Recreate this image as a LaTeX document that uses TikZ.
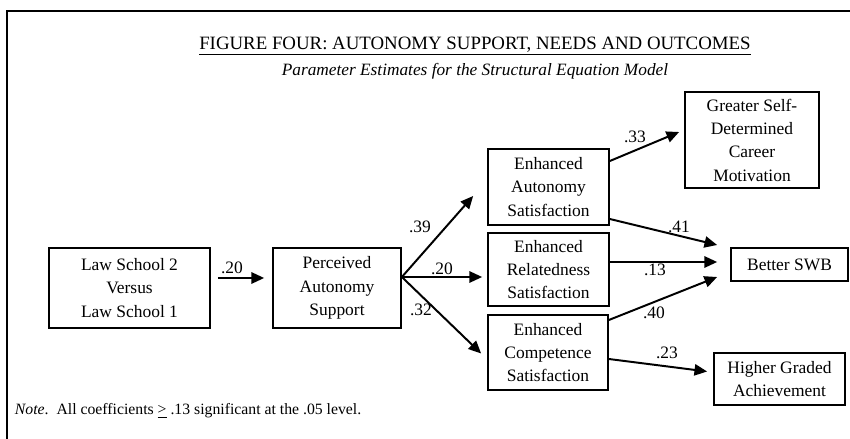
\documentclass[tikz,border=0pt]{standalone}
\usepackage{fontspec}
\setmainfont{Liberation Serif}
\usetikzlibrary{arrows.meta,calc}

\begin{document}
\begin{tikzpicture}[x=0.025cm, y=-0.025cm,
    box/.style={draw, line width=1.2pt, align=center, inner sep=0pt, font=\fontsize{12.4}{16.6}\selectfont},
    boxsize/.style 2 args={minimum width=#1*0.7113pt, minimum height=#2*0.7113pt},
    coef/.style={font=\fontsize{12.4}{14}\selectfont, inner sep=1pt},
    arr/.style={line width=1.4pt, -{Triangle[length=9pt,width=8pt]}}]
    \useasboundingbox (0,0) rectangle (850,439);
    \draw[line width=1pt] (7,445) -- (7,11) -- (860,11);

    % title
    \node (title) at (475,46) {\fontsize{13.4}{16}\selectfont\underline{FIGURE FOUR: AUTONOMY SUPPORT, NEEDS AND OUTCOMES}};
    \node (subtitle) at (475,71) {\fontsize{12.3}{15}\selectfont\itshape Parameter Estimates for the Structural Equation Model};

    % boxes
    \node[box, boxsize={161}{80}] (law) at (129.5,288) {Law School 2\\Versus\\Law School 1};
    \node[box, boxsize={128}{80}] (pas) at (337,288) {Perceived\\Autonomy\\Support};
    \node[box, boxsize={121}{76}] (eas) at (548.5,187) {Enhanced\\Autonomy\\Satisfaction};
    \node[box, boxsize={121}{73}] (ers) at (548.5,269.5) {Enhanced\\Relatedness\\Satisfaction};
    \node[box, boxsize={120}{75}] (ecs) at (548,352.5) {Enhanced\\Competence\\Satisfaction};
    \node[box, boxsize={134}{96}] (gsd) at (752,140) {Greater Self-\\Determined\\Career\\Motivation};
    \node[box, boxsize={117}{33}] (swb) at (789.5,264.5) {Better SWB};
    \node[box, boxsize={131}{52}] (hga) at (779.5,379) {Higher Graded\\Achievement};

    % paths
    \draw[arr] ($(law.east)+(7,-10)$) -- ($(pas.west)+(-8,-10)$);
    \draw[arr] ($(pas.east)+(0,-11)$) -- ($(eas.west)+(-14,9)$);
    \draw[arr] ($(pas.east)+(0,-11)$) -- ($(ers.west)+(-5,7.5)$);
    \draw[arr] ($(pas.east)+(0,-11)$) -- ($(ecs.west)+(-6,1)$);
    \draw[arr] ($(eas.east)+(0,-26)$) -- ($(gsd.west)+(-5,-8)$);
    \draw[arr] ($(eas.east)+(0,32)$) -- ($(swb.west)+(-13,-19.5)$);
    \draw[arr] ($(ers.east)+(0,-7.5)$) -- ($(swb.west)+(-13,-2.5)$);
    \draw[arr] ($(ecs.east)+(0,-32.5)$) -- ($(swb.west)+(-13,12.5)$);
    \draw[arr] ($(ecs.east)+(0,6.5)$) -- ($(hga.west)+(-6,-7.5)$);

    % coefficients
    \node[coef] (c1) at (232,268) {.20};
    \node[coef] (c2) at (420,227) {.39};
    \node[coef] (c3) at (442,269) {.20};
    \node[coef] (c4) at (421,310) {.32};
    \node[coef] (c5) at (635,137) {.33};
    \node[coef] (c6) at (679,227) {.41};
    \node[coef] (c7) at (655,270) {.13};
    \node[coef] (c8) at (654,313) {.40};
    \node[coef] (c9) at (667,353) {.23};

    % note
    \node[anchor=west, font=\fontsize{11.2}{13}\selectfont] (note) at (10,411) {\textit{Note}.\ \ All coefficients \underline{>} .13 significant at the .05 level.};
\end{tikzpicture}
\end{document}
